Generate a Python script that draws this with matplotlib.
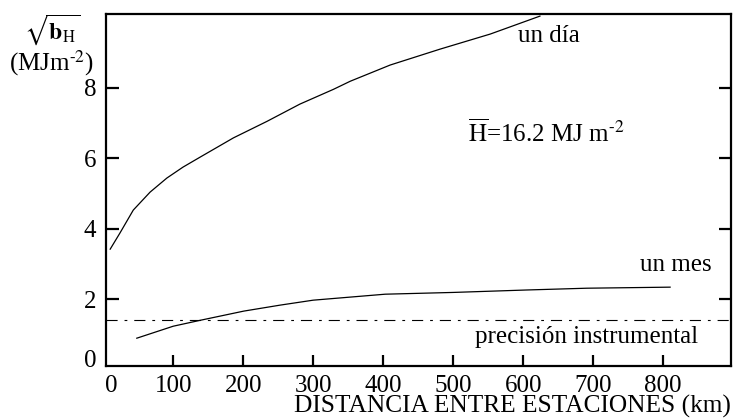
import matplotlib
matplotlib.use("Agg")
import matplotlib.pyplot as plt

plt.rcParams['font.family'] = ['Liberation Serif', 'DejaVu Serif']
plt.rcParams['mathtext.fontset'] = 'stix'
plt.rcParams['lines.scale_dashes'] = False

# Data
dia_x = [10, 24, 43, 67, 91, 114, 139, 186, 234, 281, 329, 353, 410, 481, 553, 624]
dia_y = [3.42, 3.88, 4.53, 5.04, 5.44, 5.75, 6.04, 6.58, 7.05, 7.54, 7.96, 8.19, 8.65, 9.10, 9.53, 10.04]

mes_x = [48, 100, 139, 201, 253, 300, 403, 500, 606, 691, 810]
mes_y = [0.89, 1.23, 1.40, 1.66, 1.83, 1.97, 2.14, 2.19, 2.26, 2.31, 2.34]

precision = 1.40

xtick_pos = [11, 100, 200, 300, 400, 500, 600, 700, 800]
xtick_labels = ['0', '100', '200', '300', '400', '500', '600', '700', '800']
ytick_pos = [0.32, 2, 4, 6, 8]
ytick_labels = ['0', '2', '4', '6', '8']

fig = plt.figure(figsize=(7.39, 4.18), dpi=100)
ax = fig.add_axes([106/739, 1-366/418, (731-106)/739, (366-14)/418])

ax.plot(dia_x, dia_y, color='black', lw=0.9)
ax.plot(mes_x, mes_y, color='black', lw=0.9)
ax.axhline(precision, color='black', lw=0.8, dashes=(8, 5, 2, 5))

ax.set_xlim(4, 897)
ax.set_ylim(0.1, 10.1)
ax.set_xticks(xtick_pos)
ax.set_xticklabels(xtick_labels)
ax.set_yticks(ytick_pos)
ax.set_yticklabels(ytick_labels)

for s in ax.spines.values():
    s.set_linewidth(1.6)

ax.tick_params(axis='both', direction='in', labelsize=18, width=1.6, colors='black')
ax.tick_params(axis='y', length=9, pad=7, right=True)
ax.tick_params(axis='x', length=8, pad=6.5)

# the "0" labels sit beside the corner without a tick mark
for t in (ax.xaxis.get_major_ticks()[0], ax.yaxis.get_major_ticks()[0]):
    t.tick1line.set_visible(False)
    t.tick2line.set_visible(False)

ax.set_xlabel('DISTANCIA ENTRE ESTACIONES (km)', fontsize=18.3, loc='right', labelpad=-1.5)

ax.text(593, 9.47, 'un día', fontsize=18, va='center', ha='left')
ax.text(521, 6.72, r'$\overline{\mathrm{H}}$=16.2 MJ m$^{\text{-2}}$', fontsize=18, va='center', ha='left')
ax.text(767, 2.97, 'un mes', fontsize=18, va='center', ha='left')
ax.text(531, 0.92, 'precisión instrumental', fontsize=18, va='center', ha='left')

fig.text(52/739, 1-30/418, r'$\sqrt{\mathbf{b}_{\mathrm{H}}}$', fontsize=17, ha='center', va='center')
fig.text(52/739, 1-63/418, r'(MJm$^{\text{-2}}$)', fontsize=18, ha='center', va='center')

fig.savefig('out.png', dpi=100)
